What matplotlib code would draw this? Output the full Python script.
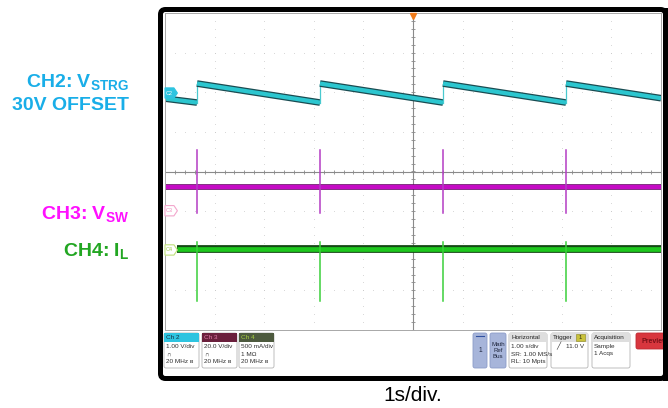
"""Scope capture: CH2 storage-cap sawtooth, CH3 switch node, CH4 inductor current."""
import numpy as np
import matplotlib
matplotlib.use("Agg")
import matplotlib.pyplot as plt
from matplotlib.patches import Rectangle, FancyBboxPatch, Polygon, Circle

plt.rcParams['font.family'] = ['Liberation Sans', 'DejaVu Sans']
plt.rcParams['mathtext.fontset'] = 'custom'
plt.rcParams['mathtext.rm'] = 'Liberation Sans:bold'
plt.rcParams['mathtext.default'] = 'rm'

# traces in screen divisions (10 div x 8 div, 1 s/div)
ch2_t = [0.0, 0.645, 0.645, 3.125, 3.125, 5.605, 5.605, 8.085, 8.085, 10.0]
ch2_v = [1.84, 1.74, 2.22, 1.74, 2.22, 1.74, 2.22, 1.74, 2.22, 1.85]
edge_t = [0.645, 3.125, 5.605, 8.085]      # switching bursts
ch3_level = -0.38
ch3_spike = [0.54, -1.04]
ch4_level = -1.96
ch4_spike = [-1.77, -3.26]
tag_names = ["C2", "C3", "C4"]
tag_y = [1.98, -0.99, -1.98]

# readout boxes
ch_heads = ["Ch 2", "Ch 3", "Ch 4"]
ch_lines = [["1.00 V/div", "\u2229", "20 MHz \u0299"],
            ["20.0 V/div", "\u2229", "20 MHz \u0299"],
            ["500 mA/div", "1 M\u03a9", "20 MHz \u0299"]]
horiz_lines = ["1.00 s/div", "SR: 1.00 MS/s", "RL: 10 Mpts"]
acq_lines = ["Sample", "1 Acqs"]

W, H = 668, 408
fig = plt.figure(figsize=(W / 100, H / 100), dpi=100)

bg = fig.add_axes([0, 0, 1, 1])
bg.set_xlim(0, W); bg.set_ylim(H, 0); bg.axis("off")

# ---- scope screen ----
ax = fig.add_axes([165 / W, 1 - 330 / H, 496 / W, 317 / H], zorder=2)
ax.set_xlim(0, 10); ax.set_ylim(-4, 4)
ax.set_xticks([]); ax.set_yticks([])
for s in ax.spines.values():
    s.set_color("#a8a8a8"); s.set_linewidth(0.7)

gy = np.arange(-4, 4.01, 0.2)
gx = np.arange(0, 10.01, 0.2)
for xv in range(1, 10):
    if xv != 5:
        ax.plot([xv] * len(gy), gy, ls="none", marker="s", ms=0.45, mew=0, color="#c4c4c4")
for yv in range(-3, 4):
    if yv != 0:
        ax.plot(gx, [yv] * len(gx), ls="none", marker="s", ms=0.45, mew=0, color="#c4c4c4")
ax.axhline(0, color="#8a8a8a", lw=0.8)
ax.axvline(5, color="#8a8a8a", lw=0.8)
ax.plot(gx, np.zeros_like(gx), ls="none", marker="|", ms=3, mew=0.6, color="#8a8a8a")
ax.plot(np.full_like(gy, 5), gy, ls="none", marker="_", ms=3, mew=0.6, color="#8a8a8a")

# CH2 sawtooth: thick ramps, thin vertical jumps
for i in range(len(ch2_t) - 1):
    xs, ys = ch2_t[i:i + 2], ch2_v[i:i + 2]
    if xs[0] == xs[1]:
        ax.plot(xs, ys, color="#49c9cf", lw=0.9)
    else:
        ax.plot(xs, ys, color="#1a4c52", lw=4.8, solid_capstyle="butt")
        ax.plot(xs, ys, color="#2cc6cf", lw=3.0, solid_capstyle="butt")

# CH3 switch node
ax.plot([0, 10], [ch3_level] * 2, color="#5a005a", lw=4.0, solid_capstyle="butt")
ax.plot([0, 10], [ch3_level] * 2, color="#c40cc4", lw=3.0, solid_capstyle="butt")
for t in edge_t:
    ax.plot([t, t], ch3_spike, color="#b43cc4", lw=1.1)

# CH4 inductor current
ax.plot([0.24, 10], [ch4_level] * 2, color="#154815", lw=5.6, solid_capstyle="butt")
ax.plot([0.24, 10], [ch4_level] * 2, color="#1ec81e", lw=3.4, solid_capstyle="butt")
for t in edge_t:
    ax.plot([t, t], ch4_spike, color="#3ad03a", lw=1.1)

# channel tags
tag_fc = ["#2ec4e0", "white", "white"]
tag_ec = ["#2ec4e0", "#f3a6cc", "#bfe07a"]
tag_tc = ["white", "#f08cbc", "#9cc84a"]
for name, y, fc, ec, tc in zip(tag_names, tag_y, tag_fc, tag_ec, tag_tc):
    ax.add_patch(Polygon([(0, y - 0.13), (0.18, y - 0.13), (0.25, y),
                          (0.18, y + 0.13), (0, y + 0.13)],
                         closed=True, fc=fc, ec=ec, lw=0.8, zorder=5, clip_on=False))
    ax.text(0.09, y, name, color=tc, fontsize=4, ha="center", va="center", zorder=6)

ax.plot([5], [3.93], marker="v", ms=5, color="#ee7a1a", clip_on=False, zorder=6)

# zoom corner icon
bg.add_patch(Polygon([(645, 18), (660, 18), (660, 35)], closed=True, fc="#8f99b9", ec="none", zorder=5))
fig.patches.append(Circle((656 / W, 1 - 22 / H), 0.003, transform=fig.transFigure,
                          fc="none", ec="white", lw=0.6, zorder=10))

# ---- readout bar ----
def box(x0, x1, y0=333, h=35, fc="white", ec="#b4b4b4"):
    bg.add_patch(FancyBboxPatch((x0, y0), x1 - x0, h, boxstyle="round,pad=0,rounding_size=2",
                                fc=fc, ec=ec, lw=0.6))

head_fc = ["#2ec4e0", "#6a1f3c", "#4d5a3e"]
head_tc = ["#1a3040", "#e07aa8", "#a8d040"]
for k, x0 in enumerate([164, 202, 239]):
    box(x0, x0 + 35)
    bg.add_patch(Rectangle((x0 + 0.3, 333.3), 34.4, 8.5, fc=head_fc[k], ec="none"))
    bg.text(x0 + 2, 337.8, ch_heads[k], fontsize=4.6, color=head_tc[k], va="center")
    for j, s in enumerate(ch_lines[k]):
        bg.text(x0 + 2, 346.5 + j * 7.5, s, fontsize=4.6, color="#303030", va="center")

box(473, 487, fc="#a7b5da", ec="#8c9cc8")
bg.plot([476, 484], [336, 336], color="#3050a0", lw=0.8)
bg.text(480, 351, "1", fontsize=4.8, ha="center", va="center", color="#202840")
box(490, 506, fc="#a7b5da", ec="#8c9cc8")
bg.text(498, 351, "Math\nRef\nBus", fontsize=4.4, ha="center", va="center",
        color="#202840", linespacing=1.25)

for x0, x1, title in [(509, 547, "Horizontal"), (551, 588, "Trigger"), (592, 630, "Acquisition")]:
    box(x0, x1)
    bg.add_patch(Rectangle((x0 + 0.3, 333.3), x1 - x0 - 0.6, 8.5, fc="#dedede", ec="none"))
    bg.text(x0 + 2, 337.8, title, fontsize=4.6, color="#202020", va="center")
for j, s in enumerate(horiz_lines):
    bg.text(511, 346.5 + j * 7.5, s, fontsize=4.6, color="#303030", va="center")
bg.add_patch(Rectangle((576, 334.2), 9, 7, fc="#c9c23c", ec="#8a8420", lw=0.4))
bg.text(580.5, 337.8, "1", fontsize=4.2, ha="center", va="center", color="#303010")
bg.text(556, 346.5, "\u2571", fontsize=5, color="#303030", va="center")
bg.text(584, 346.5, "11.0 V", fontsize=4.6, color="#303030", va="center", ha="right")
for j, s in enumerate(acq_lines):
    bg.text(594, 346.5 + j * 7.5, s, fontsize=4.6, color="#303030", va="center")

box(636, 680, h=16, fc="#d8363e", ec="#c02830")
bg.text(641, 341.5, "Preview", fontsize=5, fontweight="bold", color="#7a1018", va="center")

# outer black bezel
bg.add_patch(FancyBboxPatch((160.5, 9.5), 505, 369, boxstyle="round,pad=0,rounding_size=5",
                            fc="none", ec="black", lw=3.6, zorder=8))
bg.add_patch(Rectangle((666, 0), 10, H, fc="white", ec="none", zorder=9))
bg.add_patch(Rectangle((663, 7.5), 5, 373, fc="black", ec="none", zorder=9))

# ---- annotations ----
lab = dict(fontsize=14, fontweight="bold", ha="right", va="baseline")
bg.text(129, 87, "CH2: V$_{STRG}$", color="#19aee8", **lab)
bg.text(129, 110, "30V OFFSET", color="#19aee8", **lab)
bg.text(129, 219, "CH3: V$_{SW}$", color="#ff10ff", **lab)
bg.text(129, 256, "CH4: I$_{L}$", color="#22a622", **lab)
bg.text(413, 401, "1s/div.", fontsize=15, ha="center", va="baseline", color="black")

fig.savefig("out.png", dpi=100)
